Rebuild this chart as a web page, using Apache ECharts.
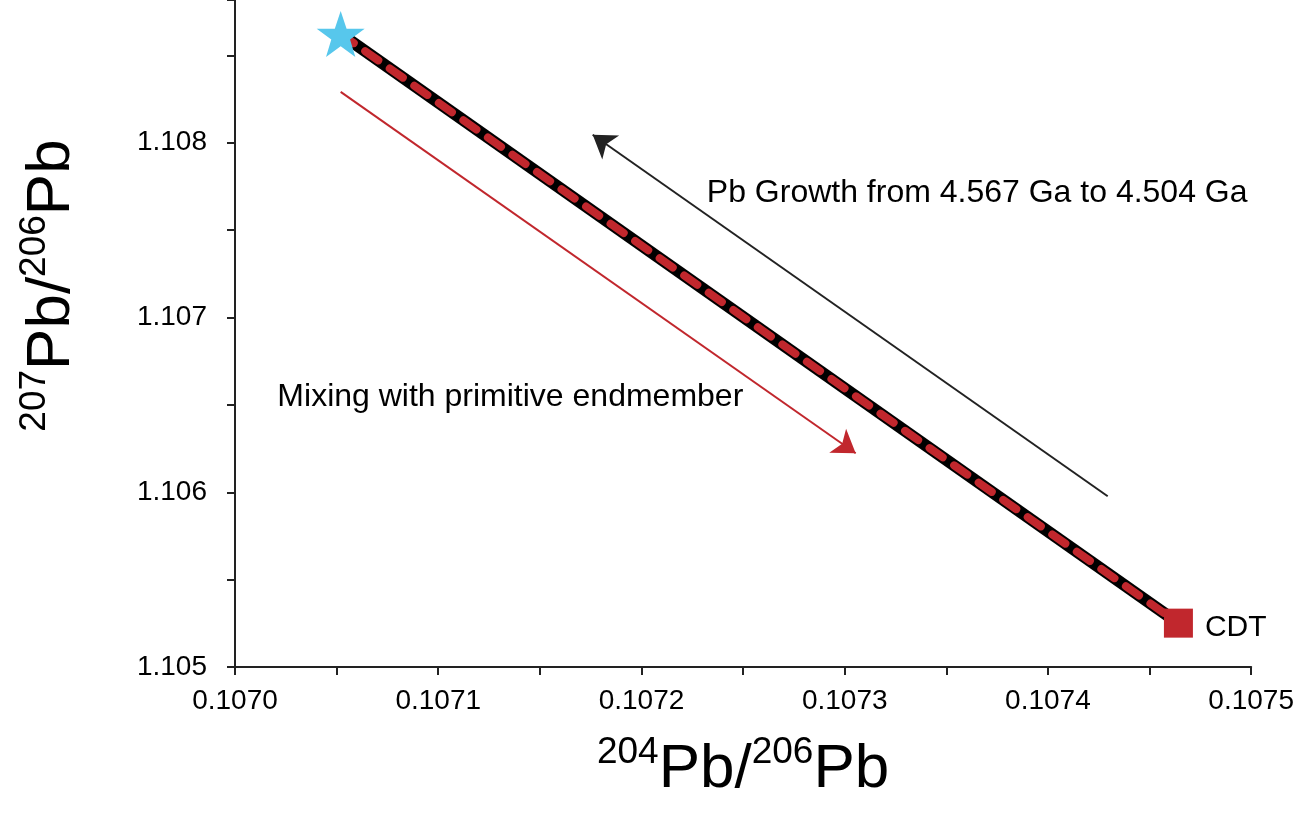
<!DOCTYPE html>
<html>
<head>
<meta charset="utf-8">
<script src="https://cdn.jsdelivr.net/npm/echarts@6/dist/echarts.min.js"></script>
<style>
html,body{margin:0;padding:0;background:#fff;}
#c{width:1297px;height:818px;}
</style>
</head>
<body>
<div id="c"></div>
<script>
// ---- data ----
const xTicksLabelled = ['0.1070','0.1071','0.1072','0.1073','0.1074','0.1075'];
const yTicksLabelled = ['1.105','1.106','1.107','1.108'];
// endmembers [204Pb/206Pb, 207Pb/206Pb]
const starPoint = [0.107052, 1.108623];
const cdtPoint = [0.1074642, 1.105251];
const growthLine = [starPoint, cdtPoint];
// arrows [start, end]
const mixingArrow = [[0.107052, 1.108291], [0.1073054, 1.106223]];
const growthArrow = [[0.1074294, 1.105977], [0.107176, 1.108046]];
// annotation anchors
const annotations = [
  {text: 'Pb Growth from 4.567 Ga to 4.504 Ga', at: [0.1072319, 1.107714]},
  {text: 'Mixing with primitive endmember', at: [0.1070206, 1.106543]}
];
const cdtLabel = 'CDT';

const FONT = '"Liberation Sans", Arial, Helvetica, sans-serif';
const chart = echarts.init(document.getElementById('c'), null, {renderer: 'canvas'});

function fmt(v, step, dec) {
  const r = v / step;
  if (Math.abs(r - Math.round(r)) < 1e-6) return v.toFixed(dec);
  return '';
}

const starPath = 'path://M50,0 L61.8,35.1 L98.1,35.1 L68.8,56.7 L79.4,91.0 L50,70 L20.6,91.0 L31.2,56.7 L1.9,35.1 L38.2,35.1 Z';

const titleRich = {
  sup: {fontSize: 37, fontFamily: FONT, color: '#000', verticalAlign: 'bottom', lineHeight: 37, padding: [0, 0, 30, 0]},
  big: {fontSize: 62, fontFamily: FONT, color: '#000', verticalAlign: 'bottom', lineHeight: 62}
};

chart.setOption({
  backgroundColor: '#fff',
  animation: false,
  grid: {left: 235, right: 42, top: 0, bottom: 151, containLabel: false},
  xAxis: {
    type: 'value', min: 0.107, max: 0.1075, interval: 0.00005,
    name: '{sup|204}{big|Pb/}{sup|206}{big|Pb}',
    nameLocation: 'middle', nameGap: 72,
    nameTextStyle: {fontFamily: FONT, color: '#000', rich: titleRich},
    axisLine: {show: true, onZero: false, lineStyle: {color: '#222', width: 2}},
    axisTick: {show: true, inside: false, length: 8, lineStyle: {color: '#222', width: 2}},
    splitLine: {show: false},
    axisLabel: {
      fontSize: 28, fontFamily: FONT, color: '#000', margin: 20,
      formatter: v => fmt(v, 0.0001, 4)
    }
  },
  yAxis: {
    type: 'value', min: 1.105, max: 1.1088171, interval: 0.0005,
    name: '{sup|207}{big|Pb/}{sup|206}{big|Pb}',
    nameLocation: 'middle', nameGap: 152, nameRotate: 90,
    nameTextStyle: {fontFamily: FONT, color: '#000', rich: titleRich, padding: [0, 0, 0, 96]},
    axisLine: {show: true, onZero: false, lineStyle: {color: '#222', width: 2}},
    axisTick: {show: true, inside: false, length: 8, lineStyle: {color: '#222', width: 2}},
    splitLine: {show: false},
    axisLabel: {
      fontSize: 28, fontFamily: FONT, color: '#000', margin: 28,
      formatter: v => fmt(v, 0.001, 3)
    }
  },
  series: [
    {
      type: 'line', data: growthLine, symbol: 'none', z: 2,
      lineStyle: {color: '#000', width: 12}
    },
    {
      type: 'line', data: growthLine, symbol: 'none', z: 3,
      lineStyle: {color: '#C1272D', width: 8, type: [16, 14], cap: 'round'}
    },
    {
      type: 'lines', coordinateSystem: 'cartesian2d', z: 3,
      symbol: ['none', 'arrow'], symbolSize: 22,
      lineStyle: {color: '#C1272D', width: 2, opacity: 1},
      data: [{coords: mixingArrow}]
    },
    {
      type: 'lines', coordinateSystem: 'cartesian2d', z: 3,
      symbol: ['none', 'arrow'], symbolSize: 22,
      lineStyle: {color: '#222', width: 2, opacity: 1},
      data: [{coords: growthArrow}]
    },
    {
      type: 'scatter', data: [starPoint], z: 5,
      symbol: starPath, symbolSize: [48, 46],
      itemStyle: {color: '#57C7EC', opacity: 1}
    },
    {
      type: 'scatter', data: [cdtPoint], z: 5,
      symbol: 'rect', symbolSize: 29,
      itemStyle: {color: '#C1272D', opacity: 1},
      label: {show: true, position: 'right', distance: 12, offset: [0, 5], formatter: cdtLabel,
        fontSize: 30, fontFamily: FONT, color: '#000', opacity: 1}
    },
    {
      type: 'scatter', z: 6, symbolSize: 1, symbol: 'circle',
      itemStyle: {color: 'rgba(255,255,255,0)', opacity: 1},
      data: annotations.map(a => ({value: a.at, name: a.text})),
      label: {show: true, position: 'right', distance: 0, formatter: p => p.name,
        fontSize: 32, fontFamily: FONT, color: '#000', opacity: 1, textBorderWidth: 0}
    }
  ]
});
</script>
</body>
</html>
